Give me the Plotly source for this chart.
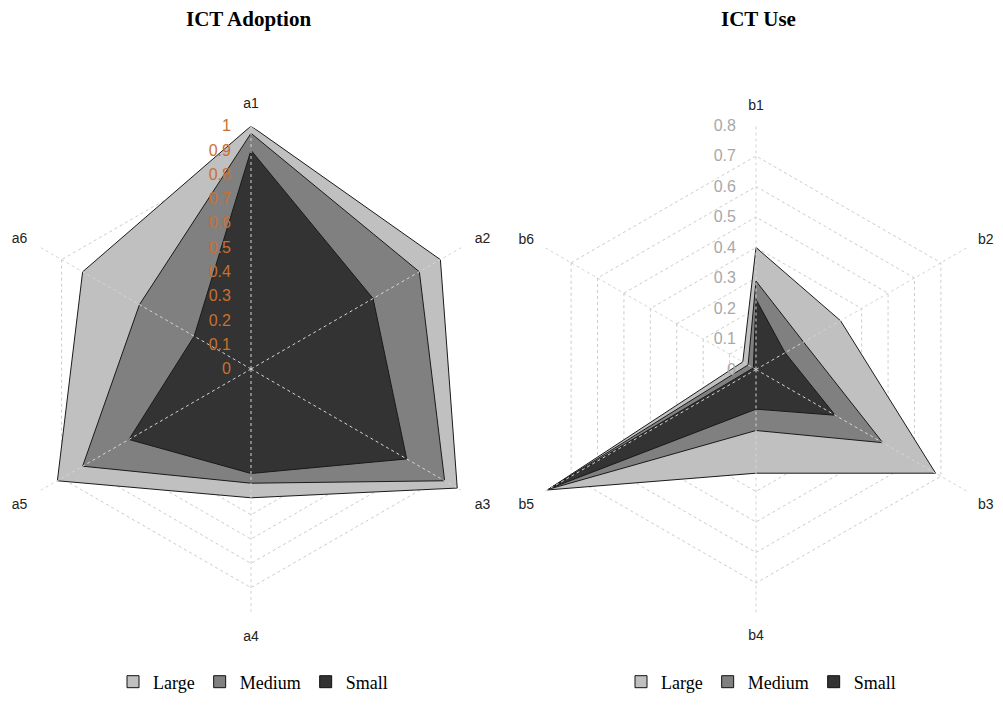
import plotly.graph_objects as go

# ---- data ----
categories_a = ["a1", "a2", "a3", "a4", "a5", "a6"]
adoption_large = [1.00, 0.90, 0.98, 0.53, 0.92, 0.80]
adoption_medium = [0.97, 0.80, 0.92, 0.47, 0.80, 0.53]
adoption_small = [0.90, 0.58, 0.74, 0.43, 0.58, 0.27]

categories_b = ["b1", "b2", "b3", "b4", "b5", "b6"]
use_large = [0.40, 0.32, 0.68, 0.34, 0.79, 0.05]
use_medium = [0.29, 0.18, 0.48, 0.20, 0.785, 0.03]
use_small = [0.23, 0.11, 0.30, 0.13, 0.78, 0.01]

series_names = ["Large", "Medium", "Small"]
fill_colors = ["#c0c0c0", "#808080", "#333333"]

fig = go.Figure()

def add_group(cats, series, rmax, subplot, legend):
    for name, vals, col in zip(series_names, series, fill_colors):
        fig.add_trace(go.Scatterpolar(
            r=vals + vals[:1], theta=cats + cats[:1],
            mode="lines", fill="toself", fillcolor=col,
            line=dict(color="#1a1a1a", width=1),
            name=name, subplot=subplot, showlegend=False,
            hoverinfo="skip",
        ))
    # spokes drawn above the filled areas
    for c in cats:
        fig.add_trace(go.Scatterpolar(
            r=[0, rmax], theta=[c, c], mode="lines",
            line=dict(color="#d4d4d4", width=1, dash="3px,3px"),
            subplot=subplot, showlegend=False, hoverinfo="skip",
        ))
    fig.add_trace(go.Scatterpolar(
        r=[0], theta=[cats[0]], mode="markers",
        marker=dict(color="#b8b8b8", size=5),
        subplot=subplot, showlegend=False, hoverinfo="skip",
    ))
    # legend entries
    for name, col in zip(series_names, fill_colors):
        fig.add_trace(go.Scatterpolar(
            r=[None], theta=[None], mode="markers",
            marker=dict(symbol="square", size=12, color=col,
                        line=dict(color="#111111", width=1)),
            name=name, subplot=subplot, legend=legend, hoverinfo="skip",
        ))

add_group(categories_a, [adoption_large, adoption_medium, adoption_small], 1.0, "polar", "legend")
add_group(categories_b, [use_large, use_medium, use_small], 0.8, "polar2", "legend2")

# page has an 8px body margin; figure coordinates below are page coords - 8
W, H = 995, 696

def polar_cfg(cx, cy, R, rmax, tickcolor, labpad):
    return dict(
        domain=dict(x=[max((cx - R) / W, 0.0), min((cx + R) / W, 1.0)],
                    y=[(H - cy - R) / H, (H - cy + R) / H]),
        gridshape="linear",
        bgcolor="rgba(0,0,0,0)",
        radialaxis=dict(
            range=[0, rmax], dtick=0.1, angle=90, tickangle=90,
            side="counterclockwise", showline=False,
            ticks="outside", ticklen=14, tickcolor="rgba(0,0,0,0)",
            gridcolor="#cccccc", griddash="3px,3px", gridwidth=1,
            tickfont=dict(family="Liberation Sans, Arial", size=16, color=tickcolor),
        ),
        angularaxis=dict(
            rotation=90, direction="clockwise", showline=False,
            ticks="outside", ticklen=labpad, tickcolor="rgba(0,0,0,0)",
            showgrid=False,
            tickfont=dict(family="Liberation Sans, Arial", size=14, color="#222222"),
        ),
    )

leg_font = dict(family="Liberation Serif, Times New Roman", size=18, color="black")
title_font = dict(family="Liberation Serif, Times New Roman", size=21, color="black")

fig.update_layout(
    width=W, height=H,
    margin=dict(l=0, r=0, t=0, b=0, autoexpand=False),
    paper_bgcolor="white", plot_bgcolor="white",
    polar=polar_cfg(243, 361, 243, 1.0, "#c87030", 12),
    polar2=polar_cfg(748, 361.5, 244, 0.8, "#a8a8a8", 9),
    legend=dict(orientation="h", x=245 / W, y=(H - 674) / H, xanchor="center", yanchor="middle",
                font=leg_font, itemwidth=30, tracegroupgap=0),
    legend2=dict(orientation="h", x=753 / W, y=(H - 674) / H, xanchor="center", yanchor="middle",
                 font=leg_font, itemwidth=30, tracegroupgap=0),
    annotations=[
        dict(text="<b>ICT Adoption</b>", x=240 / W, y=(H - 11) / H, xref="paper", yref="paper",
             showarrow=False, xanchor="center", yanchor="middle", font=title_font),
        dict(text="<b>ICT Use</b>", x=750 / W, y=(H - 11) / H, xref="paper", yref="paper",
             showarrow=False, xanchor="center", yanchor="middle", font=title_font),
    ],
)

fig.write_html("out.html")
